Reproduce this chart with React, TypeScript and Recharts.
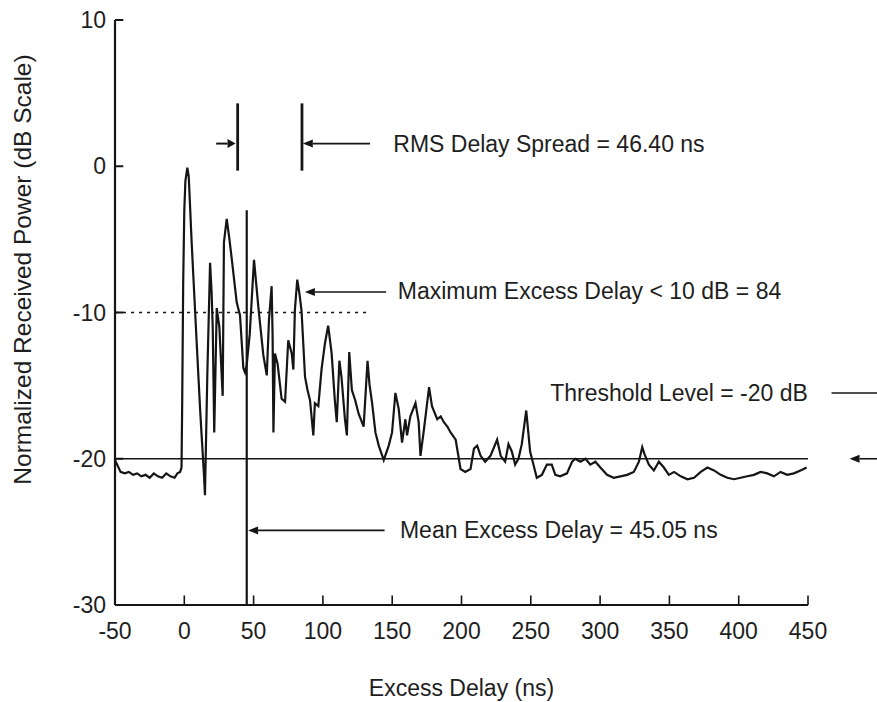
import React from 'react';
import {
  LineChart,
  Line,
  XAxis,
  YAxis,
  ReferenceLine,
  ReferenceDot,
} from 'recharts';

// power delay profile, excess delay in ns vs normalized power in dB
const delayNs = [
  -50, -48, -46, -43, -40, -37, -34, -31, -28, -25, -22, -19, -16, -13, -10, -7, -5, -3, -2,
  -1.5, -0.8, 0, 0.8, 2.2, 3.2, 4,
  5.3, 8.9, 11.4, 12.5, 14.2, 14.9, 16.6, 18.6, 19.7, 20.5, 21.6, 23.4, 25.3, 27.7, 28.6, 30.6,
  32.3, 34.2, 37.8, 40.2, 42.6, 43.8, 45, 47.2, 50.3, 53.4, 57, 59.5, 61.1, 63, 63.7, 64.3, 65.4,
  67.3, 70.2, 72.7, 75, 77.5, 78.7, 79.8, 81.5, 83.2, 84.6, 87.1, 88.9, 90.7, 93.1, 94.2, 96.7,
  99, 101.5, 103.8, 106.3, 108.6, 110, 111.9, 113.4, 115.9, 117.3, 119, 120.9, 123.3, 125.7,
  129.4, 132.2, 133.6, 135.5, 137.9, 140.3, 143.9, 147.5, 149.9, 152.3, 154.7, 157.1, 159.5,
  160.7, 163.1, 166.8, 169.1, 170.4, 172.9, 176.6, 178.7, 182.5, 185, 187.3, 189.8, 192.1, 195.8,
  199.3, 202.7, 206.5, 209, 211.3, 213.8, 217.1, 220.9, 225.7, 228.3,
  231.5, 233.9, 236.3, 238.7, 241.1, 243.5, 246.7, 249.5, 251.9, 254.3, 258, 261.6, 265.1, 267.7,
  271.2, 276.1, 279.8, 282.2, 285.8, 289.5, 292.9, 296.6, 300.2, 305, 309.8, 314.7, 319.5, 324.3,
  328, 330.4, 332.1, 335.2, 338.8, 342.4, 346, 349.6, 353.4, 358.2, 363, 367.8, 372.6, 377.4,
  382.2, 387, 391.8, 396.6, 401.4, 406.2, 411, 415.8, 420.6, 425.4, 430.2, 435, 439.8, 444.6, 449,
];

const powerDb = [
  -20.1, -20.5, -20.9, -21.0, -20.9, -21.1, -21.0, -21.2, -21.1, -21.3, -21.0, -21.2, -21.3, -21.0,
  -21.2, -21.3, -21.0, -20.9, -20.6,
  -16, -8, -3, -1.0, -0.1, -0.7, -2.4,
  -5.2, -12, -16.6, -18.4, -21.1, -22.5, -14.3, -6.6, -8.6, -11, -18.2, -9.7, -11, -15.7, -5.2,
  -3.6, -4.8, -6.3, -9.3, -10.2, -13.8, -14.1, -13.6, -11.5, -6.4, -9.6, -12.9, -14.3, -10.5,
  -8.2, -11.5, -18.2, -12.8, -13.5, -15.9, -16.1, -11.9, -12.8, -13.9, -9.8, -7.75, -8.8, -9.9,
  -14.4, -15.3, -16, -18.4, -16.2, -16.4, -13.9, -12.1, -10.9, -12.8, -16, -17.5, -13.3, -14.4,
  -17.3, -18.4, -12.7, -15.3, -16, -16.9, -17.8, -13.3, -14.9, -16.2, -18.2, -19.1, -20.1, -19.1,
  -18.2, -15.5, -16.6, -18.9, -17.3, -18.4, -17.1, -16.2, -17.5, -19.8, -18, -15.1, -16.4, -17.3,
  -17.1, -17.5, -17.8, -18.2, -18.7, -20.7, -20.9, -20.7, -19.3, -19.1, -19.8, -20.2, -19.8,
  -18.7, -19.8,
  -20.2, -19.0, -19.5, -20.4, -20.0, -19.0, -16.7, -19.5, -20.4, -21.3, -21.1, -20.4, -20.4,
  -21.1, -21.2, -21.0, -20.2, -20.0, -20.2, -20.0, -20.4, -20.2, -20.6, -21.1, -21.3, -21.2,
  -21.1, -20.9, -20.2, -19.2, -19.7, -20.4, -20.8, -20.2, -20.6, -21.1, -20.9, -21.2, -21.4,
  -21.3, -20.9, -20.6, -20.8, -21.1, -21.3, -21.4, -21.3, -21.2, -21.1, -20.9, -21.0, -21.2,
  -20.9, -21.1, -21.0, -20.8, -20.6,
];

const xTicks = [-50, 0, 50, 100, 150, 200, 250, 300, 350, 400, 450];
const yTicks = [-30, -20, -10, 0, 10];

// reported statistics
const thresholdDb = -20;
const excessLevelDb = -10;
const meanExcessDelay = 45.05;
const rmsDelaySpread = 46.4;
const rmsStart = 38.5;
const maxExcessDelay = 84;

const rows = delayNs.map((x, i) => ({ x, y: powerDb[i] }));

const FONT = '"Liberation Sans", Arial, Helvetica, sans-serif';
const INK = '#151515';
const TEXT = '#1e1e1e';
const FS = 23;

// filled arrowhead at the "to" end of a reference segment
function Arrow(props: any) {
  const { x1, y1, x2, y2, head = 10, half = 4, sw = 1.6 } = props;
  const dx = x2 - x1;
  const dy = y2 - y1;
  const len = Math.hypot(dx, dy) || 1;
  const ux = dx / len;
  const uy = dy / len;
  const bx = x2 - ux * head;
  const by = y2 - uy * head;
  const pts = `${x2},${y2} ${bx - uy * half},${by + ux * half} ${bx + uy * half},${by - ux * half}`;
  return (
    <g>
      <line x1={x1} y1={y1} x2={bx} y2={by} stroke={INK} strokeWidth={sw} />
      <polygon points={pts} fill={INK} />
    </g>
  );
}

function Note(text: string) {
  return (p: any) => (
    <text
      x={p.cx}
      y={p.cy}
      dominantBaseline="central"
      textAnchor="start"
      fontFamily={FONT}
      fontSize={FS}
      fill={TEXT}
    >
      {text}
    </text>
  );
}

function YTitle(props: any) {
  const vb = props?.viewBox ?? { x: 0, y: 20, width: 115, height: 585 };
  const cx = vb.x + 22;
  const cy = vb.y + vb.height / 2 - 43;
  return (
    <text
      x={cx}
      y={cy}
      transform={`rotate(-90, ${cx}, ${cy})`}
      textAnchor="middle"
      dominantBaseline="central"
      fontFamily={FONT}
      fontSize={24.5}
      fill={TEXT}
    >
      Normalized Received Power (dB Scale)
    </text>
  );
}

export default function App() {
  const rmsEnd = rmsStart + rmsDelaySpread;
  return (
    <div style={{ position: 'absolute', left: 0, top: 0, width: 877, height: 702, background: '#fff' }}>
      <LineChart
        width={877}
        height={702}
        data={rows}
        margin={{ top: 20, right: 69, bottom: 1, left: 0 }}
      >
        <XAxis
          type="number"
          dataKey="x"
          domain={[-50, 450]}
          ticks={xTicks}
          allowDataOverflow
          tickLine={false}
          tickSize={0}
          tickMargin={18}
          height={96}
          axisLine={{ stroke: INK, strokeWidth: 2.2 }}
          tick={{ fontSize: FS, fill: TEXT, fontFamily: FONT }}
          label={{
            value: 'Excess Delay (ns)',
            position: 'insideBottom',
            offset: 5,
            fontSize: FS,
            fill: TEXT,
            fontFamily: FONT,
          }}
        />
        <YAxis
          type="number"
          domain={[-30, 10]}
          ticks={yTicks}
          allowDataOverflow
          width={115}
          tickLine={false}
          tickSize={0}
          tickMargin={9}
          axisLine={{ stroke: INK, strokeWidth: 2.2 }}
          tick={{ fontSize: FS, fill: TEXT, fontFamily: FONT }}
          label={YTitle}
        />

        {/* inward tick marks */}
        {yTicks.slice(1).map((t) => (
          <ReferenceLine
            key={'yt' + t}
            segment={[{ x: -50, y: t }, { x: -44, y: t }]}
            stroke={INK}
            strokeWidth={2}
            ifOverflow="visible"
          />
        ))}
        {xTicks.slice(1).map((t) => (
          <ReferenceLine
            key={'xt' + t}
            segment={[{ x: t, y: -30 }, { x: t, y: -29.35 }]}
            stroke={INK}
            strokeWidth={1.6}
            ifOverflow="visible"
          />
        ))}

        {/* -10 dB level and -20 dB threshold */}
        <ReferenceLine
          segment={[{ x: -50, y: excessLevelDb }, { x: 134, y: excessLevelDb }]}
          stroke={INK}
          strokeWidth={1.6}
          strokeDasharray="3 5"
        />
        <ReferenceLine
          segment={[{ x: -50, y: thresholdDb }, { x: 450, y: thresholdDb }]}
          stroke={INK}
          strokeWidth={1.3}
        />

        <Line
          type="linear"
          dataKey="y"
          stroke={INK}
          strokeWidth={2.2}
          dot={false}
          isAnimationActive={false}
        />

        {/* mean excess delay marker */}
        <ReferenceLine
          segment={[{ x: meanExcessDelay, y: -3 }, { x: meanExcessDelay, y: -30 }]}
          stroke={INK}
          strokeWidth={2.2}
        />
        <ReferenceLine
          segment={[{ x: 144.5, y: -24.9 }, { x: meanExcessDelay + 1, y: -24.9 }]}
          shape={(p: any) => <Arrow {...p} />}
        />
        <ReferenceDot x={155.6} y={-24.9} shape={Note('Mean Excess Delay = 45.05 ns')} />

        {/* rms delay spread bracket */}
        <ReferenceLine
          segment={[{ x: rmsStart, y: 4.3 }, { x: rmsStart, y: -0.3 }]}
          stroke={INK}
          strokeWidth={2.8}
        />
        <ReferenceLine
          segment={[{ x: rmsEnd, y: 4.3 }, { x: rmsEnd, y: -0.3 }]}
          stroke={INK}
          strokeWidth={2.8}
        />
        <ReferenceLine
          segment={[{ x: 23, y: 1.55 }, { x: rmsStart - 1.5, y: 1.55 }]}
          shape={(p: any) => <Arrow {...p} head={8} half={4.5} sw={2} />}
        />
        <ReferenceLine
          segment={[{ x: 134, y: 1.55 }, { x: rmsEnd + 0.6, y: 1.55 }]}
          shape={(p: any) => <Arrow {...p} />}
        />
        <ReferenceDot x={150.8} y={1.55} shape={Note('RMS Delay Spread = 46.40 ns')} />

        {/* maximum excess delay */}
        <ReferenceLine
          segment={[{ x: 145.6, y: -8.6 }, { x: maxExcessDelay + 3, y: -8.6 }]}
          shape={(p: any) => <Arrow {...p} />}
        />
        <ReferenceDot x={154} y={-8.5} shape={Note('Maximum Excess Delay < 10 dB = 84')} />

        {/* threshold callout, runs past the plot edge */}
        <ReferenceDot x={264} y={-15.5} ifOverflow="visible" shape={Note('Threshold Level =  -20 dB')} />
        <ReferenceLine
          segment={[{ x: 467, y: -15.5 }, { x: 500, y: -15.5 }]}
          stroke={INK}
          strokeWidth={1.4}
          ifOverflow="visible"
        />
        <ReferenceLine
          segment={[{ x: 500, y: thresholdDb }, { x: 480, y: thresholdDb }]}
          ifOverflow="visible"
          shape={(p: any) => <Arrow {...p} />}
        />
      </LineChart>
    </div>
  );
}
